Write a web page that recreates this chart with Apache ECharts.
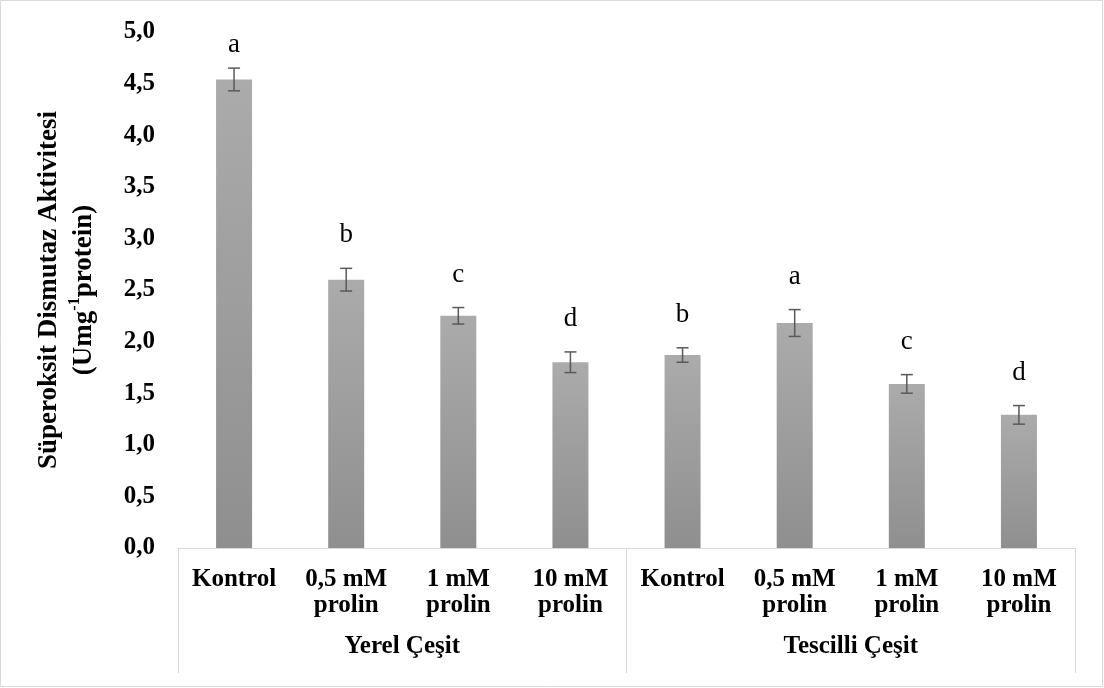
<!DOCTYPE html>
<html>
<head>
<meta charset="utf-8">
<script src="https://cdn.jsdelivr.net/npm/echarts@6/dist/echarts.min.js"></script>
<style>
html,body{margin:0;padding:0;background:#fff;}
#chart{width:1104px;height:688px;}
</style>
</head>
<body>
<div id="chart"></div>
<script>
const categories = ['Kontrol', '0,5 mM\nprolin', '1 mM\nprolin', '10 mM\nprolin', 'Kontrol', '0,5 mM\nprolin', '1 mM\nprolin', '10 mM\nprolin'];
const groups = ['Yerel Çeşit', 'Tescilli Çeşit'];
const values = [4.54, 2.60, 2.25, 1.80, 1.87, 2.18, 1.59, 1.29];
const errors = [0.11, 0.11, 0.08, 0.10, 0.07, 0.13, 0.09, 0.09];
const letters = ['a', 'b', 'c', 'd', 'b', 'a', 'c', 'd'];
const yTitleLine1 = 'Süperoksit Dismutaz Aktivitesi';
const yTitleLine2 = ['(Umg', '-1', 'protein)'];

const FONT = '"Liberation Serif", "Times New Roman", serif';
const chart = echarts.init(document.getElementById('chart'), null, {renderer: 'canvas'});

const errData = values.map((v, i) => [i, v, errors[i]]);

const option = {
  backgroundColor: '#ffffff',
  animation: false,
  grid: {left: 178, right: 29, top: 32, bottom: 140, containLabel: false},
  graphic: [{
    type: 'rect', shape: {x: 0.5, y: 0.5, width: 1102, height: 686},
    style: {fill: 'none', stroke: '#d9d9d9', lineWidth: 1}, silent: true
  }],
  xAxis: [{
    type: 'category', data: categories, position: 'bottom',
    axisLine: {show: true, lineStyle: {color: '#d9d9d9', width: 1}},
    axisTick: {show: false},
    axisLabel: {interval: 0, margin: 19, color: '#000', fontFamily: FONT, fontWeight: 'bold', fontSize: 25, lineHeight: 26, align: 'center'},
    splitLine: {show: false}
  }, {
    type: 'category', data: groups, position: 'bottom',
    axisLine: {show: false},
    axisTick: {show: true, length: 125, lineStyle: {color: '#d9d9d9', width: 1}},
    axisLabel: {interval: 0, margin: 86, color: '#000', fontFamily: FONT, fontWeight: 'bold', fontSize: 25, lineHeight: 26},
    splitLine: {show: false}
  }],
  yAxis: {
    type: 'value', min: 0, max: 5, interval: 0.5,
    axisLine: {show: false}, axisTick: {show: false}, splitLine: {show: false},
    axisLabel: {
      margin: 23, color: '#000', fontFamily: FONT, fontWeight: 'bold', fontSize: 25,
      formatter: v => v.toFixed(1).replace('.', ',')
    },
    name: '{t|' + yTitleLine1 + '}\n{t|' + yTitleLine2[0] + '}{s|' + yTitleLine2[1] + '}{t|' + yTitleLine2[2] + '}',
    nameLocation: 'middle', nameGap: 76,
    nameTextStyle: {
      color: '#000', fontFamily: FONT, fontWeight: 'bold', fontSize: 27, lineHeight: 35,
      rich: {
        t: {fontFamily: FONT, fontWeight: 'bold', fontSize: 27, lineHeight: 35, color: '#000'},
        s: {fontFamily: FONT, fontWeight: 'bold', fontSize: 16, lineHeight: 22, verticalAlign: 'top', color: '#000'}
      }
    }
  },
  series: [{
    type: 'bar', xAxisIndex: 0, data: values, barWidth: 36,
    itemStyle: {
      color: {type: 'linear', x: 0, y: 0, x2: 0, y2: 1, colorStops: [
        {offset: 0, color: '#ababab'}, {offset: 1, color: '#8f8f8f'}]}
    },
    z: 2
  }, {
    type: 'custom', xAxisIndex: 0, data: errData, z: 5,
    renderItem: function (params, api) {
      const i = api.value(0), v = api.value(1), e = api.value(2);
      const top = api.coord([i, v + e]);
      const bot = api.coord([i, v - e]);
      const x = top[0], cw = 6;
      const ly = Math.max(top[1] - 33, 45);
      return {
        type: 'group',
        children: [
          {type: 'line', shape: {x1: x, y1: top[1], x2: x, y2: bot[1]}, style: {stroke: '#595959', lineWidth: 1.5}},
          {type: 'line', shape: {x1: x - cw, y1: top[1], x2: x + cw, y2: top[1]}, style: {stroke: '#595959', lineWidth: 1.5}},
          {type: 'line', shape: {x1: x - cw, y1: bot[1], x2: x + cw, y2: bot[1]}, style: {stroke: '#595959', lineWidth: 1.5}},
          {type: 'text', x: x, y: ly, style: {text: letters[params.dataIndex], fill: '#000', font: 'normal 27px "Liberation Serif", serif', align: 'center', verticalAlign: 'middle'}}
        ]
      };
    }
  }]
};
chart.setOption(option);
</script>
</body>
</html>
